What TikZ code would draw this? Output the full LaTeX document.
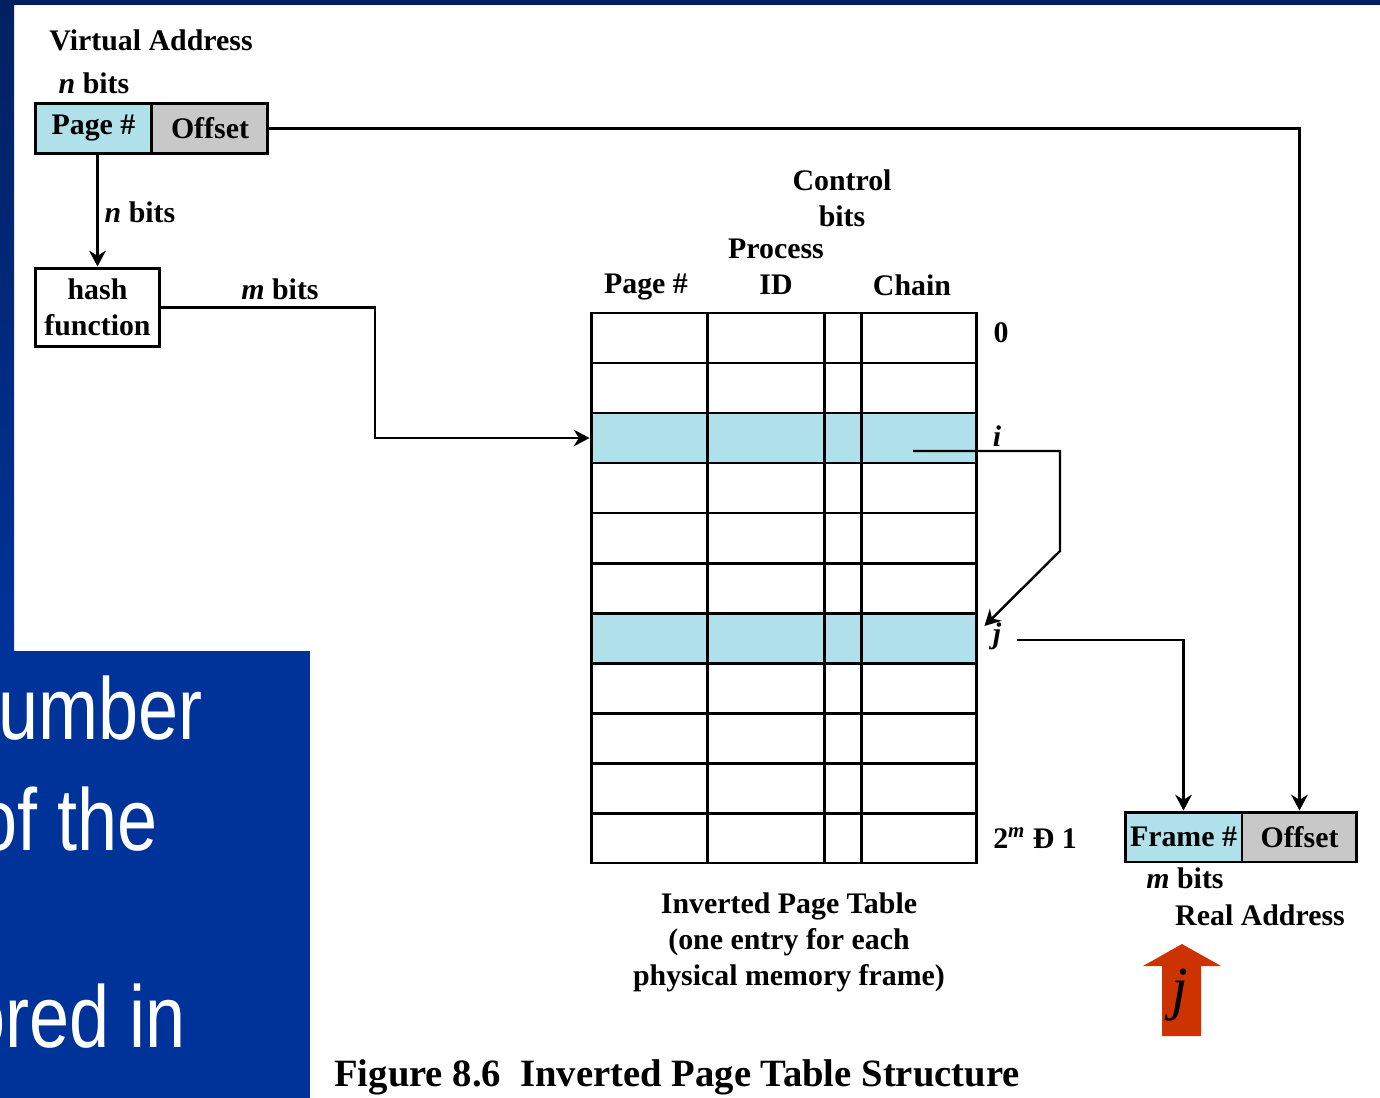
\documentclass[tikz,border=0pt]{standalone}
\usepackage{fontspec}
\setmainfont{Liberation Serif}
\setsansfont{Liberation Sans}
\usetikzlibrary{arrows.meta,positioning}
\definecolor{pageblue}{RGB}{176,224,234}
\definecolor{offgray}{RGB}{200,200,200}
\definecolor{slidenavy}{RGB}{0,32,96}
\definecolor{slideblue}{RGB}{0,51,153}
\definecolor{jred}{RGB}{204,51,0}
\tikzstyle{lbl} = [font=\fontsize{17}{20.5}\selectfont\bfseries, inner sep=1pt, align=center]
\tikzstyle{field} = [lbl, draw, line width=1.7pt, minimum height=1cm, inner sep=0pt]
\tikzstyle{row} = [draw, line width=1.7pt, minimum width=7.72cm, minimum height=1cm, inner sep=0pt]
\tikzstyle{conn} = [line width=1.4pt, -{Stealth[length=9pt,width=9.5pt]}]
\tikzstyle{slidetxt} = [anchor=base west, white, xscale=0.82, inner sep=0pt, font=\sffamily\fontsize{50}{50}\selectfont]

\begin{document}
\begin{tikzpicture}[x=0.02cm, y=-0.02cm]
\useasboundingbox (0,0) rectangle (1380,1098);
% Slide background
\fill[white] (0,0) rectangle (1380,1098);
\fill[slidenavy] (0,0) rectangle (1380,5);
\shade[top color=slidenavy, bottom color=slideblue] (0,0) rectangle (14,651);
\fill[slideblue] (0,651) rectangle (310,1098);
\node[slidetxt] (line1) at (-2,739) {umber};
\node[slidetxt] (line2) at (-23,850) {of the};
\node[slidetxt] (line3) at (-35,1047) {ored in};

% Virtual address
\node[lbl] (vaddr) at (151,40) {Virtual Address};
\node[lbl] (vbits) at (94,83) {\textit{n} bits};
\node[field, fill=pageblue, minimum width=2.34cm] (vpage) at (93.5,128.5) {Page \#};
\node[field, fill=offgray, minimum width=2.32cm, right=-1.7pt of vpage] (voff) {Offset};

% Hash function
\node[field, fill=white, minimum width=2.5cm, minimum height=1.58cm] (hash) at (97.5,307.5) {hash\\function};
\node[lbl] (nbits) at (140,212) {\textit{n} bits};
\node[lbl] (mbits) at (280,289) {\textit{m} bits};

% Inverted page table
\foreach \r/\c in {0/white,1/white,2/pageblue,3/white,4/white,5/white,6/pageblue,7/white,8/white,9/white,10/white}
  \node[row, fill=\c] (row\r) at (784,{338+50*\r}) {};
\foreach \c in {707,824,861}
  \draw[line width=1.7pt] (\c,313) -- (\c,863);
\node[lbl] (hpage) at (646,287) {Page \#};
\node[lbl] (hproc) at (776,267) {Process\\ID};
\node[lbl] (hctrl) at (842,198) {Control\\bits};
\node[lbl] (hchain) at (912,285) {Chain};
\node[lbl] (lab0) at (1001,333) {0};
\node[lbl] (labi) at (997,436) {\textit{i}};
\node[lbl] (labj) at (997,636) {\textit{j}};
\node[lbl] (labm) at (1035,838) {2\textsuperscript{\textit{m}} Ð 1};
\node[lbl] (tcap) at (789,942) {Inverted Page Table\\(one entry for each\\physical memory frame)};
\coordinate (chain) at (913,451);
\coordinate (jout) at (1017,640);

% Real address
\node[field, fill=pageblue, minimum width=2.34cm] (rframe) at (1183.5,837) {Frame \#};
\node[field, fill=offgray, minimum width=2.30cm, right=-1.7pt of rframe] (roff) {Offset};
\node[lbl] (rbits) at (1185,878) {\textit{m} bits};
\node[lbl] (raddr) at (1260,915) {Real Address};

% Connectors
\draw[conn] (vpage.south -| hash.north) -- (hash.north);
\draw[conn] (hash.east) -| (375,380) |- (row2.west);
\draw[conn] (voff.east) -| (roff.north);
\draw[conn] (chain) -- (1060,451) -- (1060,551) -- ([shift={(6,-12)}]row6.east);
\draw[conn] (jout) -| (rframe.north);

% Red arrow
\fill[jred] (1162,1036) -- (1162,966) -- (1143,966) -- (1182,944) -- (1221,966) -- (1201,966) -- (1201,1036) -- cycle;
\node (jmark) at (1180,995) {\fontsize{34}{34}\selectfont\textit{j}};

% Caption
\node[font=\fontsize{22}{24}\selectfont\bfseries] (fcap) at (677,1077) {Figure 8.6\ \ Inverted Page Table Structure};
\end{tikzpicture}
\end{document}
